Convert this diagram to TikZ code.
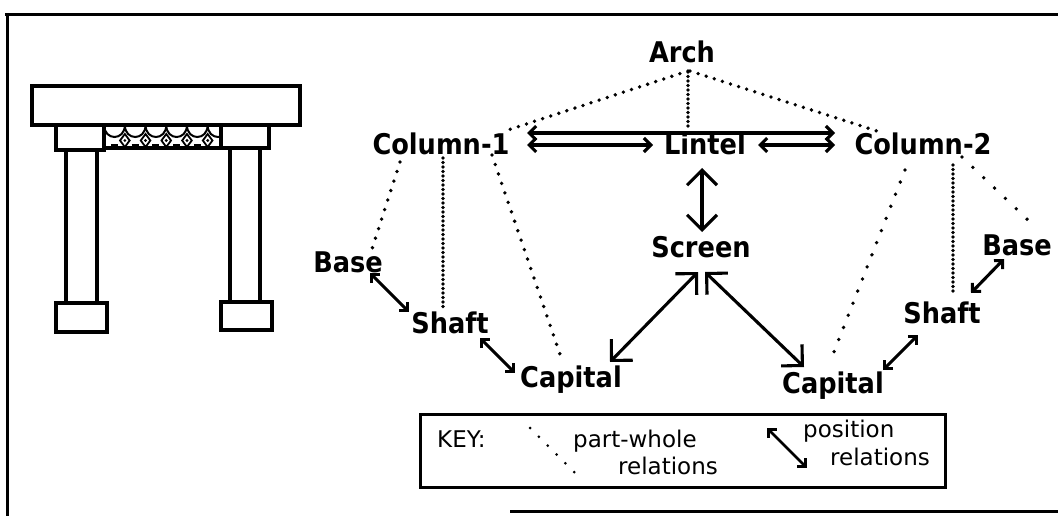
\documentclass[tikz,border=0pt]{standalone}
\usepackage{fontspec}
\setmainfont{DejaVu Sans}
\newfontfamily\lblfont{DejaVu Sans Condensed Bold}
\usetikzlibrary{arrows.meta,calc}
\begin{document}
\begin{tikzpicture}[x=1pt,y=-1pt,
  lbl/.style={font=\lblfont\fontsize{28.5}{32}\selectfont, inner sep=0pt, anchor=base},
  keytxt/.style={font=\fontsize{23}{27}\selectfont, inner sep=0pt, anchor=base west},
  pw/.style={line width=3.8pt, line cap=round, dash pattern=on 0pt off #1},
  pw/.default=8pt,
  posS/.style={line width=3.1pt, {Straight Barb[length=6pt,width=12pt]}-{Straight Barb[length=6pt,width=12pt]}},
  posM/.style={line width=3.1pt, {Straight Barb[length=7pt,width=14pt]}-{Straight Barb[length=7pt,width=14pt]}},
  posL/.style={line width=3.1pt, {Straight Barb[length=15pt,width=30pt]}-{Straight Barb[length=15pt,width=30pt]}},
  archline/.style={line width=3.2pt},
  frame/.style={line width=3pt}
]
\useasboundingbox (0,0) rectangle (1058,516);

% page frame
\draw[frame] (5,15) -- (1058,15);
\draw[frame] (7,15) -- (7,516);
\draw[frame] (510,511) -- (1058,511);

% elevation of the arch
\draw[archline] (32,86) rectangle (300,125);
\draw[archline] (56,125) rectangle (104,150);
\draw[archline] (221,125) rectangle (269,148);
\draw[archline] (66,150) rectangle (97,303);
\draw[archline] (56,303) rectangle (107,332);
\draw[archline] (230,148) rectangle (260,302);
\draw[archline] (221,302) rectangle (272,330);
% pierced screen under the lintel
\begin{scope}
  \clip (104,125) rectangle (221,148);
  \foreach \c in {114.5,135.2,155.9,176.6,197.3,218}
    \draw[line width=2pt] (\c-10.35,125) .. controls (\c-10.35,141) and (\c+10.35,141) .. (\c+10.35,125);
  \foreach \d in {124.85,145.55,166.25,186.95,207.65}{
    \draw[line width=1.8pt] (\d,134) -- (\d+4.8,140.5) -- (\d,147) -- (\d-4.8,140.5) -- cycle;
    \fill (\d,140.5) circle[radius=1.6pt];
  }
  \foreach \c in {114.5,135.2,155.9,176.6,197.3}
    \draw[line width=2.2pt] (\c-3.5,145) -- (\c+3.5,145);
\end{scope}
\draw[line width=3.4pt] (104,148) -- (221,148);

% structural description
\node[lbl] (arch)   at (682,63)  {Arch};
\node[lbl] (colA)   at (441,155) {Column-1};
\node[lbl] (lintel) at (705,155) {Lintel};
\node[lbl] (colB)   at (923,155) {Column-2};
\node[lbl] (screen) at (701,257) {Screen};
\node[lbl] (baseA)  at (348,272) {Base};
\node[lbl] (shaftA) at (450,333) {Shaft};
\node[lbl] (capA)   at (571,387) {Capital};
\node[lbl] (capB)   at (833,393) {Capital};
\node[lbl] (shaftB) at (942,323) {Shaft};
\node[lbl] (baseB)  at (1017,255) {Base};

% part-whole relations
\draw[pw=8.5pt] ($(arch.base)+(6,8)$) -- ($(colA.base)+(67,-25)$);
\draw[pw=8.5pt] ($(arch.base)+(8,8)$) -- ($(colB.base)+(-43,-23)$);
\draw[pw=4.5pt] ($(arch.base)+(6,9)$) -- ($(lintel.base)+(-17,-25)$);
\draw[pw=10pt]  ($(colA.base)+(-41,7)$) -- ($(baseA.base)+(24,-23)$);
\draw[pw=4.5pt] ($(colA.base)+(2,3)$) -- ($(shaftA.base)+(-7,-25)$);
\draw[pw=10pt]  ($(colA.base)+(51,0)$) -- ($(capA.base)+(-8,-24)$);
\draw[pw=13pt]  ($(colB.base)+(-18,15)$) -- ($(capB.base)+(-3,-31)$);
\draw[pw=4.5pt] ($(colB.base)+(30,10)$) -- ($(shaftB.base)+(11,-30)$);
\draw[pw=15pt]  ($(colB.base)+(39,2)$) -- ($(baseB.base)+(13,-33)$);

% position relations
\draw[posM] ($(colA.base)+(86,-22)$) -- ($(colB.base)+(-88,-22)$);
\draw[posM] ($(colA.base)+(86,-10)$) -- ($(lintel.base)+(-52,-10)$);
\draw[posM] ($(lintel.base)+(53,-10)$) -- ($(colB.base)+(-88,-10)$);
\draw[posL] ($(lintel.base)+(-3,13)$) -- ($(screen.base)+(1,-25)$);
\draw[posL] ($(screen.base)+(-3,15)$) -- ($(capA.base)+(39,-25)$);
\draw[posL] ($(screen.base)+(4,15)$) -- ($(capB.base)+(-29,-26)$);
\draw[posS] ($(baseA.base)+(22,1)$) -- ($(shaftA.base)+(-41,-21)$);
\draw[posS] ($(shaftA.base)+(30,5)$) -- ($(capA.base)+(-56,-14)$);
\draw[posS] ($(shaftB.base)+(-24,12)$) -- ($(capB.base)+(50,-23)$);
\draw[posS] ($(baseB.base)+(-13,4)$) -- ($(shaftB.base)+(29,-30)$);

% key
\draw[frame] (420,414) rectangle (945,487);
\node[keytxt] (keyhead) at (437,447) {KEY:};
\node[keytxt] (pwA) at (573,447) {part-whole};
\node[keytxt] (pwB) at (618,474) {relations};
\node[keytxt] (psA) at (803,437) {position};
\node[keytxt] (psB) at (830,465) {relations};
\coordinate (kd1) at (530,428);
\coordinate (kd2) at (583,481);
\coordinate (ka1) at (767,428);
\coordinate (ka2) at (807,468);
\draw[pw=12.5pt, line width=3pt] (kd1) -- (kd2);
\draw[posS, line width=2.8pt] (ka1) -- (ka2);
\end{tikzpicture}
\end{document}
